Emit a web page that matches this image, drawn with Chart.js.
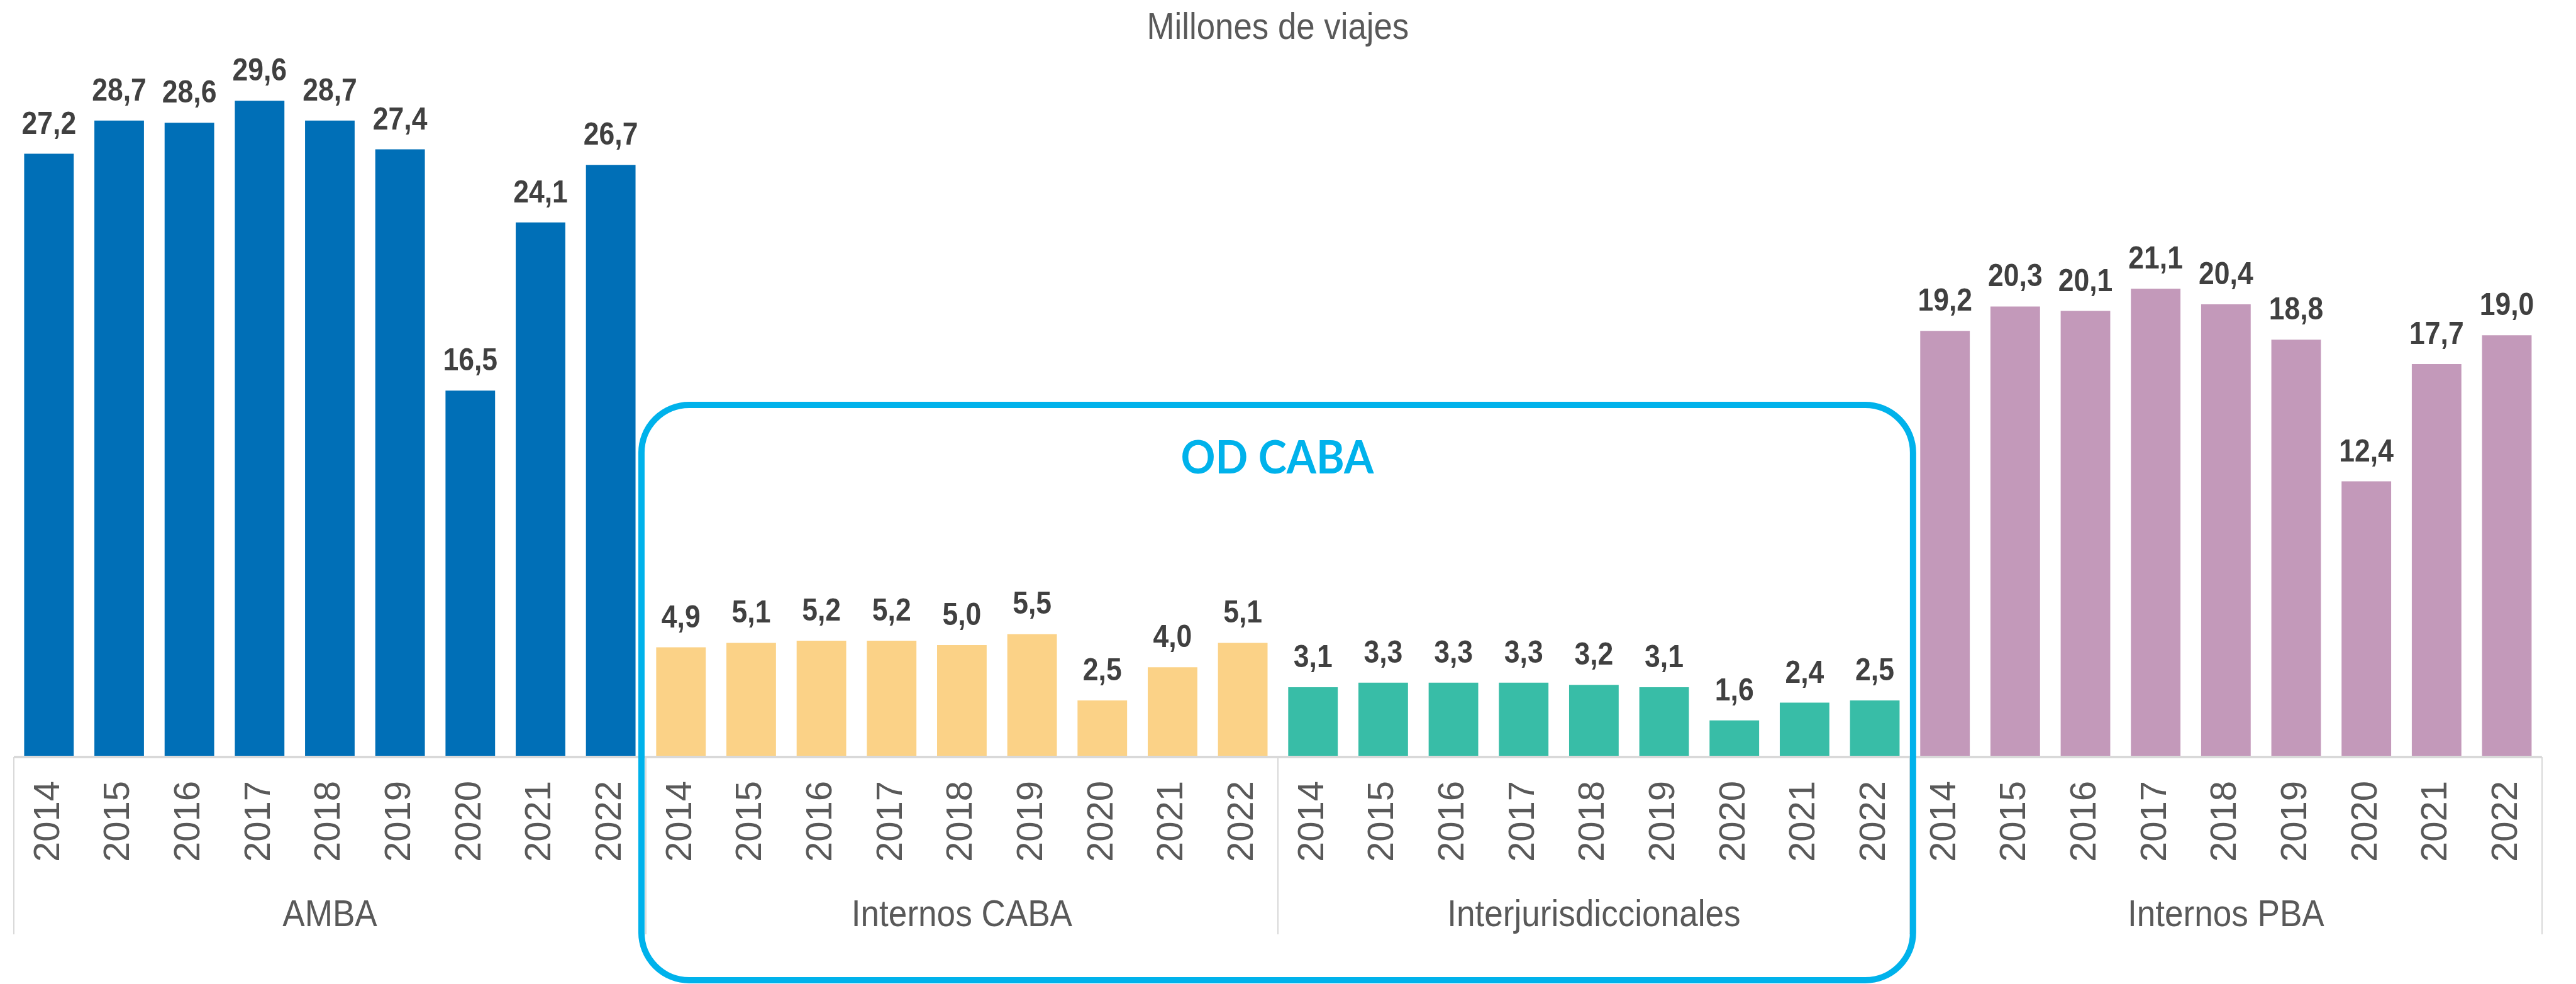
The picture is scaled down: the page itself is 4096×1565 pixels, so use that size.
<!DOCTYPE html>
<html>
<head>
<meta charset="utf-8">
<script src="https://cdn.jsdelivr.net/npm/chart.js@4.4.1/dist/chart.umd.min.js"></script>
<style>
  html, body { margin: 0; padding: 0; background: #ffffff; overflow: hidden; }
  canvas { display: block; }
</style>
</head>
<body>
<canvas id="c" width="4096" height="1565"></canvas>
<script>
// ---- data ----
const years = ['2014', '2015', '2016', '2017', '2018', '2019', '2020', '2021', '2022'];
const groupNames = ['AMBA', 'Internos CABA', 'Interjurisdiccionales', 'Internos PBA'];
const amba = [27.2, 28.7, 28.6, 29.6, 28.7, 27.4, 16.5, 24.1, 26.7];
const internosCaba = [4.9, 5.1, 5.2, 5.2, 5.0, 5.5, 2.5, 4.0, 5.1];
const interjurisdiccionales = [3.1, 3.3, 3.3, 3.3, 3.2, 3.1, 1.6, 2.4, 2.5];
const internosPba = [19.2, 20.3, 20.1, 21.1, 20.4, 18.8, 12.4, 17.7, 19.0];
const groupColors = ['#006FB7', '#FBD287', '#38BDA7', '#C399BA'];
const titleText = 'Millones de viajes';
const boxText = 'OD CABA';

const groupSeries = [amba, internosCaba, interjurisdiccionales, internosPba];
const labels = groupNames.flatMap(() => years);
const values = groupSeries.flat();
const colors = groupSeries.flatMap((s, g) => s.map(() => groupColors[g]));

const FONT = '"Liberation Sans", Arial, sans-serif';
const GRAY = '#595959';

function drawCondensed(ctx, text, x, y, sx) {
  ctx.save();
  ctx.translate(x, y);
  ctx.scale(sx, 1);
  ctx.fillText(text, 0, 0);
  ctx.restore();
}

const decorPlugin = {
  id: 'decor',
  afterDatasetsDraw(chart) {
    const ctx = chart.ctx;
    const xs = chart.scales.x;
    const area = chart.chartArea;
    const n = labels.length;
    const slot = (area.right - area.left) / n;
    const boundary = (i) => (i < n ? xs.getPixelForValue(i) - slot / 2 : xs.getPixelForValue(n - 1) + slot / 2);

    // axis line
    ctx.save();
    ctx.strokeStyle = '#D9D9D9';
    ctx.lineWidth = 4;
    ctx.beginPath();
    ctx.moveTo(area.left, area.bottom + 2);
    ctx.lineTo(area.right, area.bottom + 2);
    ctx.stroke();
    // group separators
    ctx.lineWidth = 2;
    for (let g = 0; g <= groupNames.length; g++) {
      const x = Math.round(boundary(g * years.length));
      ctx.beginPath();
      ctx.moveTo(x, area.bottom + 2);
      ctx.lineTo(x, 1486);
      ctx.stroke();
    }
    ctx.restore();

    // value labels
    const meta = chart.getDatasetMeta(0);
    ctx.save();
    ctx.fillStyle = '#404040';
    ctx.font = 'bold 50px ' + FONT;
    ctx.textAlign = 'center';
    ctx.textBaseline = 'alphabetic';
    meta.data.forEach((el, i) => {
      const t = values[i].toFixed(1).replace('.', ',');
      drawCondensed(ctx, t, el.x, el.y - 32, 0.89);
    });
    ctx.restore();

    // group labels
    ctx.save();
    ctx.fillStyle = GRAY;
    ctx.font = '59px ' + FONT;
    ctx.textAlign = 'center';
    ctx.textBaseline = 'alphabetic';
    groupNames.forEach((name, g) => {
      const cx = (boundary(g * years.length) + boundary((g + 1) * years.length)) / 2;
      drawCondensed(ctx, name, cx, 1473, 0.9);
    });
    ctx.restore();

    // title
    ctx.save();
    ctx.fillStyle = GRAY;
    ctx.font = '60px ' + FONT;
    ctx.textAlign = 'center';
    ctx.textBaseline = 'alphabetic';
    drawCondensed(ctx, titleText, (area.left + area.right) / 2, 62, 0.88);
    ctx.restore();

    // OD CABA rounded box
    const bl = boundary(years.length) - 7;
    const br = boundary(3 * years.length) + 5;
    const bt = 644, bb = 1559;
    ctx.save();
    ctx.strokeStyle = '#00B2EB';
    ctx.lineWidth = 10;
    ctx.beginPath();
    ctx.roundRect(bl, bt, br - bl, bb - bt, 76);
    ctx.stroke();
    ctx.fillStyle = '#00B2EB';
    ctx.font = 'bold 72px Lato, "Open Sans", sans-serif';
    ctx.textAlign = 'center';
    ctx.textBaseline = 'alphabetic';
    const w = ctx.measureText(boxText).width;
    drawCondensed(ctx, boxText, (bl + br) / 2, 753, Math.min(1, 307 / w));
    ctx.restore();
  }
};

new Chart(document.getElementById('c'), {
  type: 'bar',
  data: {
    labels: labels,
    datasets: [{
      data: values,
      backgroundColor: colors,
      borderWidth: 0,
      barPercentage: 0.706,
      categoryPercentage: 1.0
    }]
  },
  options: {
    responsive: false,
    animation: false,
    devicePixelRatio: 1,
    layout: { padding: { left: 22, right: 30, top: 0, bottom: 0 } },
    plugins: {
      legend: { display: false },
      title: { display: false },
      tooltip: { enabled: false }
    },
    scales: {
      y: {
        display: false,
        min: 0,
        max: 34.15
      },
      x: {
        offset: true,
        grid: { display: false, drawTicks: false },
        border: { display: false },
        ticks: {
          autoSkip: false,
          minRotation: 90,
          maxRotation: 90,
          padding: 40,
          color: GRAY,
          font: { family: FONT, size: 58 }
        },
        afterFit(scale) { scale.height = 363; }
      }
    }
  },
  plugins: [decorPlugin]
});
</script>
</body>
</html>
